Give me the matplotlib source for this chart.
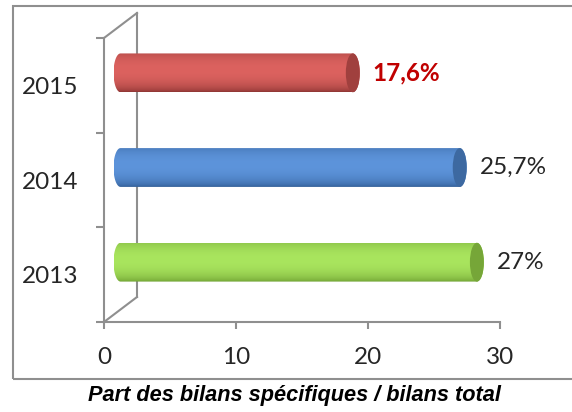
import numpy as np
import matplotlib
matplotlib.use('Agg')
import matplotlib.pyplot as plt
from matplotlib.path import Path
from matplotlib.patches import Ellipse, Rectangle
from matplotlib.transforms import ScaledTranslation
import matplotlib.colors as mcolors

# data (bottom to top)
years = ['2013', '2014', '2015']
values = [27, 25.7, 17.6]
light_colors = ['#a9e55e', '#5d94db', '#dc625f']
dark_colors = ['#6b9b2f', '#2f5b93', '#8a3331']
cap_colors = ['#76a638', '#3d69a1', '#a0403e']
label_colors = ['#262626', '#262626', '#c00000']
label_weights = ['normal', 'normal', 'bold']
x_ticks = [0, 10, 20, 30]
title = 'Part des bilans spécifiques / bilans total'

DPI = 100
GRAY = '#8f8f8f'
FONT = 'Lato'
FS = 17.5

fig = plt.figure(figsize=(5.72, 4.12), dpi=DPI)
ax = fig.add_axes([104 / 572, 90 / 412, 396 / 572, 284 / 412])
ax.set_xlim(0, 30)
ax.set_ylim(-0.5, 2.5)

for s in ['top', 'right']:
    ax.spines[s].set_visible(False)
for s in ['left', 'bottom']:
    ax.spines[s].set_color(GRAY)
    ax.spines[s].set_linewidth(1.5)

ax.set_xticks(x_ticks)
ax.set_xticklabels([str(t) for t in x_ticks], fontfamily=FONT, fontsize=FS, color='#262626')
ax.tick_params(axis='x', direction='out', length=5, width=1.5, color=GRAY, pad=13)

ax.set_yticks([-0.5, 0.5, 1.5, 2.5])
ax.set_yticklabels([])
ax.set_yticks(range(len(years)), minor=True)
ax.set_yticklabels(years, minor=True, fontfamily=FONT, fontsize=FS, color='#262626')
ax.tick_params(axis='y', which='major', direction='out', length=5.8, width=1.5, color=GRAY)
ax.tick_params(axis='y', which='minor', length=0, pad=18.5)

# 3d depth of the chart (pixels)
depth = ScaledTranslation(33 / DPI, 25 / DPI, fig.dpi_scale_trans)
half = ScaledTranslation(16.5 / DPI, 12.5 / DPI, fig.dpi_scale_trans)

# back wall
back = ax.transData + depth
ax.plot([0, 0], [-0.5, 2.5], color=GRAY, lw=1.5, transform=back, clip_on=False)
for yy in [-0.5, 2.5]:
    p0 = ax.transData.transform((0, yy))
    p1 = back.transform((0, yy))
    ax.plot([p0[0], p1[0]], [p0[1], p1[1]], color=GRAY, lw=1.5,
            transform=None, clip_on=False)

# cylinders
bar_h = 0.205
cap_a = 7 / (396 / 30)
tr = ax.transData + half
t = np.linspace(-1, 1, 120)
w = np.clip(1 - ((t - 0.15) / 1.15) ** 2, 0, 1) ** 0.6

for i, v in enumerate(values):
    lc = np.array(mcolors.to_rgb(light_colors[i]))
    dc = np.array(mcolors.to_rgb(dark_colors[i]))
    grad = dc[None, :] + (lc - dc)[None, :] * w[:, None]
    grad = grad[:, None, :]

    th1 = np.linspace(np.pi / 2, 3 * np.pi / 2, 40)
    th2 = np.linspace(-np.pi / 2, np.pi / 2, 40)
    left = np.column_stack([cap_a * np.cos(th1), i + bar_h * np.sin(th1)])
    right = np.column_stack([v + cap_a * np.cos(th2), i + bar_h * np.sin(th2)])
    verts = np.vstack([left, right, left[:1]])
    body = Path(verts, closed=True)

    im = ax.imshow(grad, extent=[-cap_a, v + cap_a, i - bar_h, i + bar_h],
                   origin='lower', aspect='auto', transform=tr,
                   interpolation='bilinear', zorder=3)
    im.set_clip_path(body, tr)

    cap = Ellipse((v, i), 2 * cap_a, 2 * bar_h, facecolor=cap_colors[i],
                  edgecolor='none', transform=tr, zorder=4, clip_on=False)
    ax.add_patch(cap)

    txt = ('%g' % v).replace('.', ',') + '%'
    ax.annotate(txt, xy=(v, i), xytext=((16.5 + 7 + 13) * 0.72, 12.5 * 0.72),
                textcoords='offset points', ha='left', va='center',
                fontfamily=FONT, fontsize=FS, color=label_colors[i],
                fontweight=label_weights[i], annotation_clip=False)

ax.set_xlim(0, 30)
ax.set_ylim(-0.5, 2.5)

# chart frame and title
fig.add_artist(Rectangle((13 / 572, 33 / 412), 1, 373 / 412, transform=fig.transFigure,
                         fill=False, edgecolor=GRAY, lw=1.5))
fig.text(294 / 572, 16 / 412, title, ha='center', va='center', fontsize=15.7,
         fontweight='bold', fontstyle='italic', family='Liberation Sans')

plt.savefig('out.png', dpi=DPI)
